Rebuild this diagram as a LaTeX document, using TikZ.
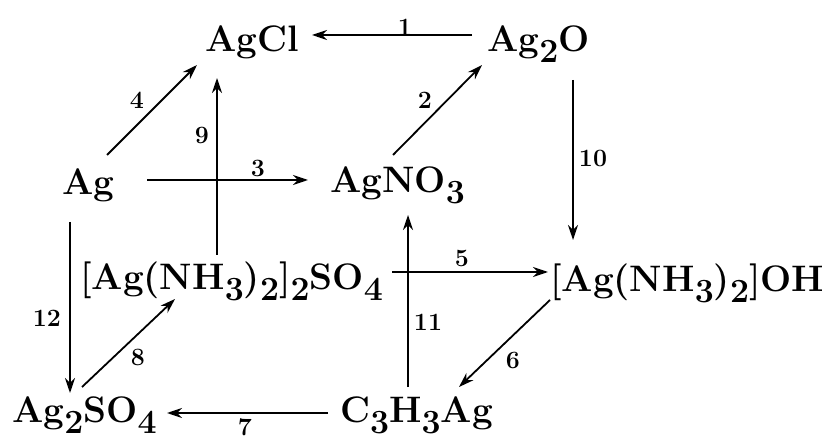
\documentclass[tikz,border=0pt]{standalone}
\usepackage{fontspec}
\usetikzlibrary{arrows.meta}
\newcommand{\chs}[1]{\raisebox{-11bp}{\fontsize{34}{34}\selectfont #1}}
\begin{document}
\begin{tikzpicture}[x=1bp,y=-1bp,
  chem/.style={inner sep=0pt,anchor=base west,font=\fontsize{37}{40}\selectfont\bfseries},
  num/.style={inner sep=0pt,font=\fontsize{25}{27}\selectfont\bfseries},
  arr/.style={line width=1.8bp,-{Stealth[length=15bp,width=10bp]}}]
\useasboundingbox (0,0) rectangle (839,436);
\node[chem] (AgCl) at (205,52) {AgCl};
\node[chem] (Ag2O) at (487,52) {Ag\chs{2}O};
\node[chem] (Ag) at (62,195) {Ag};
\node[chem] (AgNO3) at (330,193) {AgNO\chs{3}};
\node[chem] (SUL) at (80,290) {[Ag(NH\chs{3})\chs{2}]\chs{2}SO\chs{4}};
\node[chem] (AOH) at (550,292) {[Ag(NH\chs{3})\chs{2}]OH};
\node[chem] (A2S) at (12,422) {Ag\chs{2}SO\chs{4}};
\node[chem] (C3) at (340,422) {C\chs{3}H\chs{3}Ag};
% arrows
\draw[arr] ([shift={(-15,-17)}]Ag2O.base west) -- ([shift={(107,-17)}]AgCl.base west);
\draw[arr] ([shift={(63,-38)}]AgNO3.base west) -- ([shift={(-5,13)}]Ag2O.base west);
\draw[arr] ([shift={(85,-15)}]Ag.base west) -- ([shift={(-22,-13)}]AgNO3.base west);
\draw[arr] ([shift={(45,-40)}]Ag.base west) -- ([shift={(-8,13)}]AgCl.base west);
\draw[arr] ([shift={(137,-35)}]SUL.base west) -- ([shift={(12,26)}]AgCl.base west);
\draw[arr] ([shift={(86,28)}]Ag2O.base west) -- ([shift={(23,-52)}]AOH.base west);
\draw[arr] ([shift={(312,-18)}]SUL.base west) -- ([shift={(-2,-20)}]AOH.base west);
\draw[arr] ([shift={(68,-35)}]C3.base west) -- ([shift={(78,22)}]AgNO3.base west);
\draw[arr] ([shift={(0,8)}]AOH.base west) -- ([shift={(119,-35)}]C3.base west);
\draw[arr] ([shift={(-12,-9)}]C3.base west) -- ([shift={(155,-9)}]A2S.base west);
\draw[arr] ([shift={(70,-35)}]A2S.base west) -- ([shift={(95,9)}]SUL.base west);
\draw[arr] ([shift={(8,27)}]Ag.base west) -- ([shift={(58,-29)}]A2S.base west);
% labels
\node[num] (n1) at (405,27) {1};
\node[num] (n2) at (425,100) {2};
\node[num] (n3) at (258,168) {3};
\node[num] (n4) at (137,100) {4};
\node[num] (n9) at (202,135) {9};
\node[num] (n10) at (593,158) {10};
\node[num] (n5) at (462,258) {5};
\node[num] (n11) at (428,322) {11};
\node[num] (n6) at (513,360) {6};
\node[num] (n7) at (245,427) {7};
\node[num] (n8) at (138,357) {8};
\node[num] (n12) at (47,318) {12};
\end{tikzpicture}
\end{document}
